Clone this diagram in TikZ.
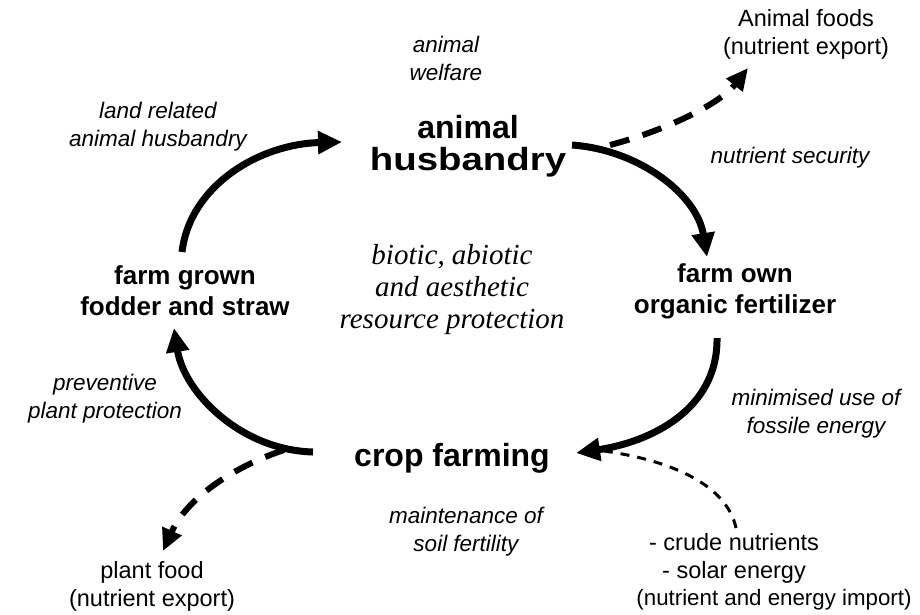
\documentclass[tikz,border=0pt]{standalone}
\usepackage{fontspec}
\setmainfont{Liberation Serif}
\newfontfamily\hv{Liberation Sans}
\usetikzlibrary{arrows.meta}
\begin{document}
\begin{tikzpicture}[x=1pt,y=-1pt,
  hubtext/.style={font=\hv\bfseries\fontsize{32}{32}\selectfont, align=center, inner sep=0pt},
  sidetext/.style={font=\hv\bfseries\fontsize{26}{31}\selectfont, align=center, inner sep=0pt},
  itlabel/.style={font=\hv\itshape\fontsize{22.5}{28}\selectfont, align=center, inner sep=0pt},
  plaintext/.style={font=\hv\fontsize{23.5}{28}\selectfont, align=center, inner sep=0pt},
  serifnote/.style={font=\itshape\fontsize{29}{32}\selectfont, align=center, inner sep=0pt},
  flowarrow/.style={line width=7pt, -{Triangle[length=24pt,width=22pt]}},
  exportarrow/.style={line width=6pt, dash pattern=on 20pt off 14pt, -{Triangle[length=22pt,width=20pt]}},
  importline/.style={line width=3pt, dash pattern=on 9pt off 8pt},
]
\path[use as bounding box] (0,0) rectangle (920,614);

% texts
\node[itlabel] (welfare) at (446,58) {animal\\welfare};
\node[hubtext] (husb) at (468,146) {animal\\\scalebox{1.2}[1]{husbandry}};
\node[plaintext] (afoods) at (806,34) {Animal foods\\(nutrient export)};
\node[itlabel] (landrel) at (158,127) {land related\\animal husbandry};
\node[itlabel] (nsec) at (790,158) {nutrient security};
\node[sidetext] (fodder) at (185,291) {farm grown\\fodder and straw};
\node[serifnote] (biotic) at (452,290) {biotic, abiotic\\and aesthetic\\resource protection};
\node[sidetext] (fert) at (735,291) {farm own\\organic fertilizer};
\node[itlabel] (prev) at (105,399) {preventive\\plant protection};
\node[itlabel] (fossil) at (816,414) {minimised use of\\fossile energy};
\node[hubtext] (crop) at (452,458) {crop farming};
\node[itlabel] (soil) at (466,532) {maintenance of\\soil fertility};
\node[plaintext] (pfood) at (152,586) {plant food\\(nutrient export)};
\node[plaintext] (crude) at (734,558) {- crude nutrients\\- solar energy};
\node[plaintext, font=\hv\fontsize{22.3}{28}\selectfont] (imp) at (774,600) {(nutrient and energy import)};

% arrow end points
\coordinate (fodderOut) at (182,252);
\coordinate (husbIn) at (342,142);
\coordinate (husbOut) at (572,145);
\coordinate (fertIn) at (707,257);
\coordinate (fertOut) at (717,338);
\coordinate (cropIn) at (576,453);
\coordinate (cropOut) at (313,452);
\coordinate (fodderIn) at (174,328);
\coordinate (exportStart) at (610,145);
\coordinate (afoodsIn) at (748,68);
\coordinate (pexportStart) at (284,450);
\coordinate (pfoodIn) at (163,551);
\coordinate (importStart) at (736,528);
\coordinate (importEnd) at (604,451);

% main cycle
\draw[flowarrow] (fodderOut) .. controls (190,185) and (260,144) .. (husbIn);
\draw[flowarrow] (husbOut) .. controls (640,150) and (697,195) .. (fertIn);
\draw[flowarrow] (fertOut) .. controls (718,410) and (650,442) .. (cropIn);
\draw[flowarrow] (cropOut) .. controls (240,450) and (184,392) .. (fodderIn);

% exports and imports
\draw[exportarrow] (exportStart) .. controls (660,132) and (718,106) .. (afoodsIn);
\draw[exportarrow] (pexportStart) .. controls (230,468) and (186,500) .. (pfoodIn);
\draw[importline] (importStart) .. controls (728,490) and (682,462) .. (importEnd);
\end{tikzpicture}
\end{document}
